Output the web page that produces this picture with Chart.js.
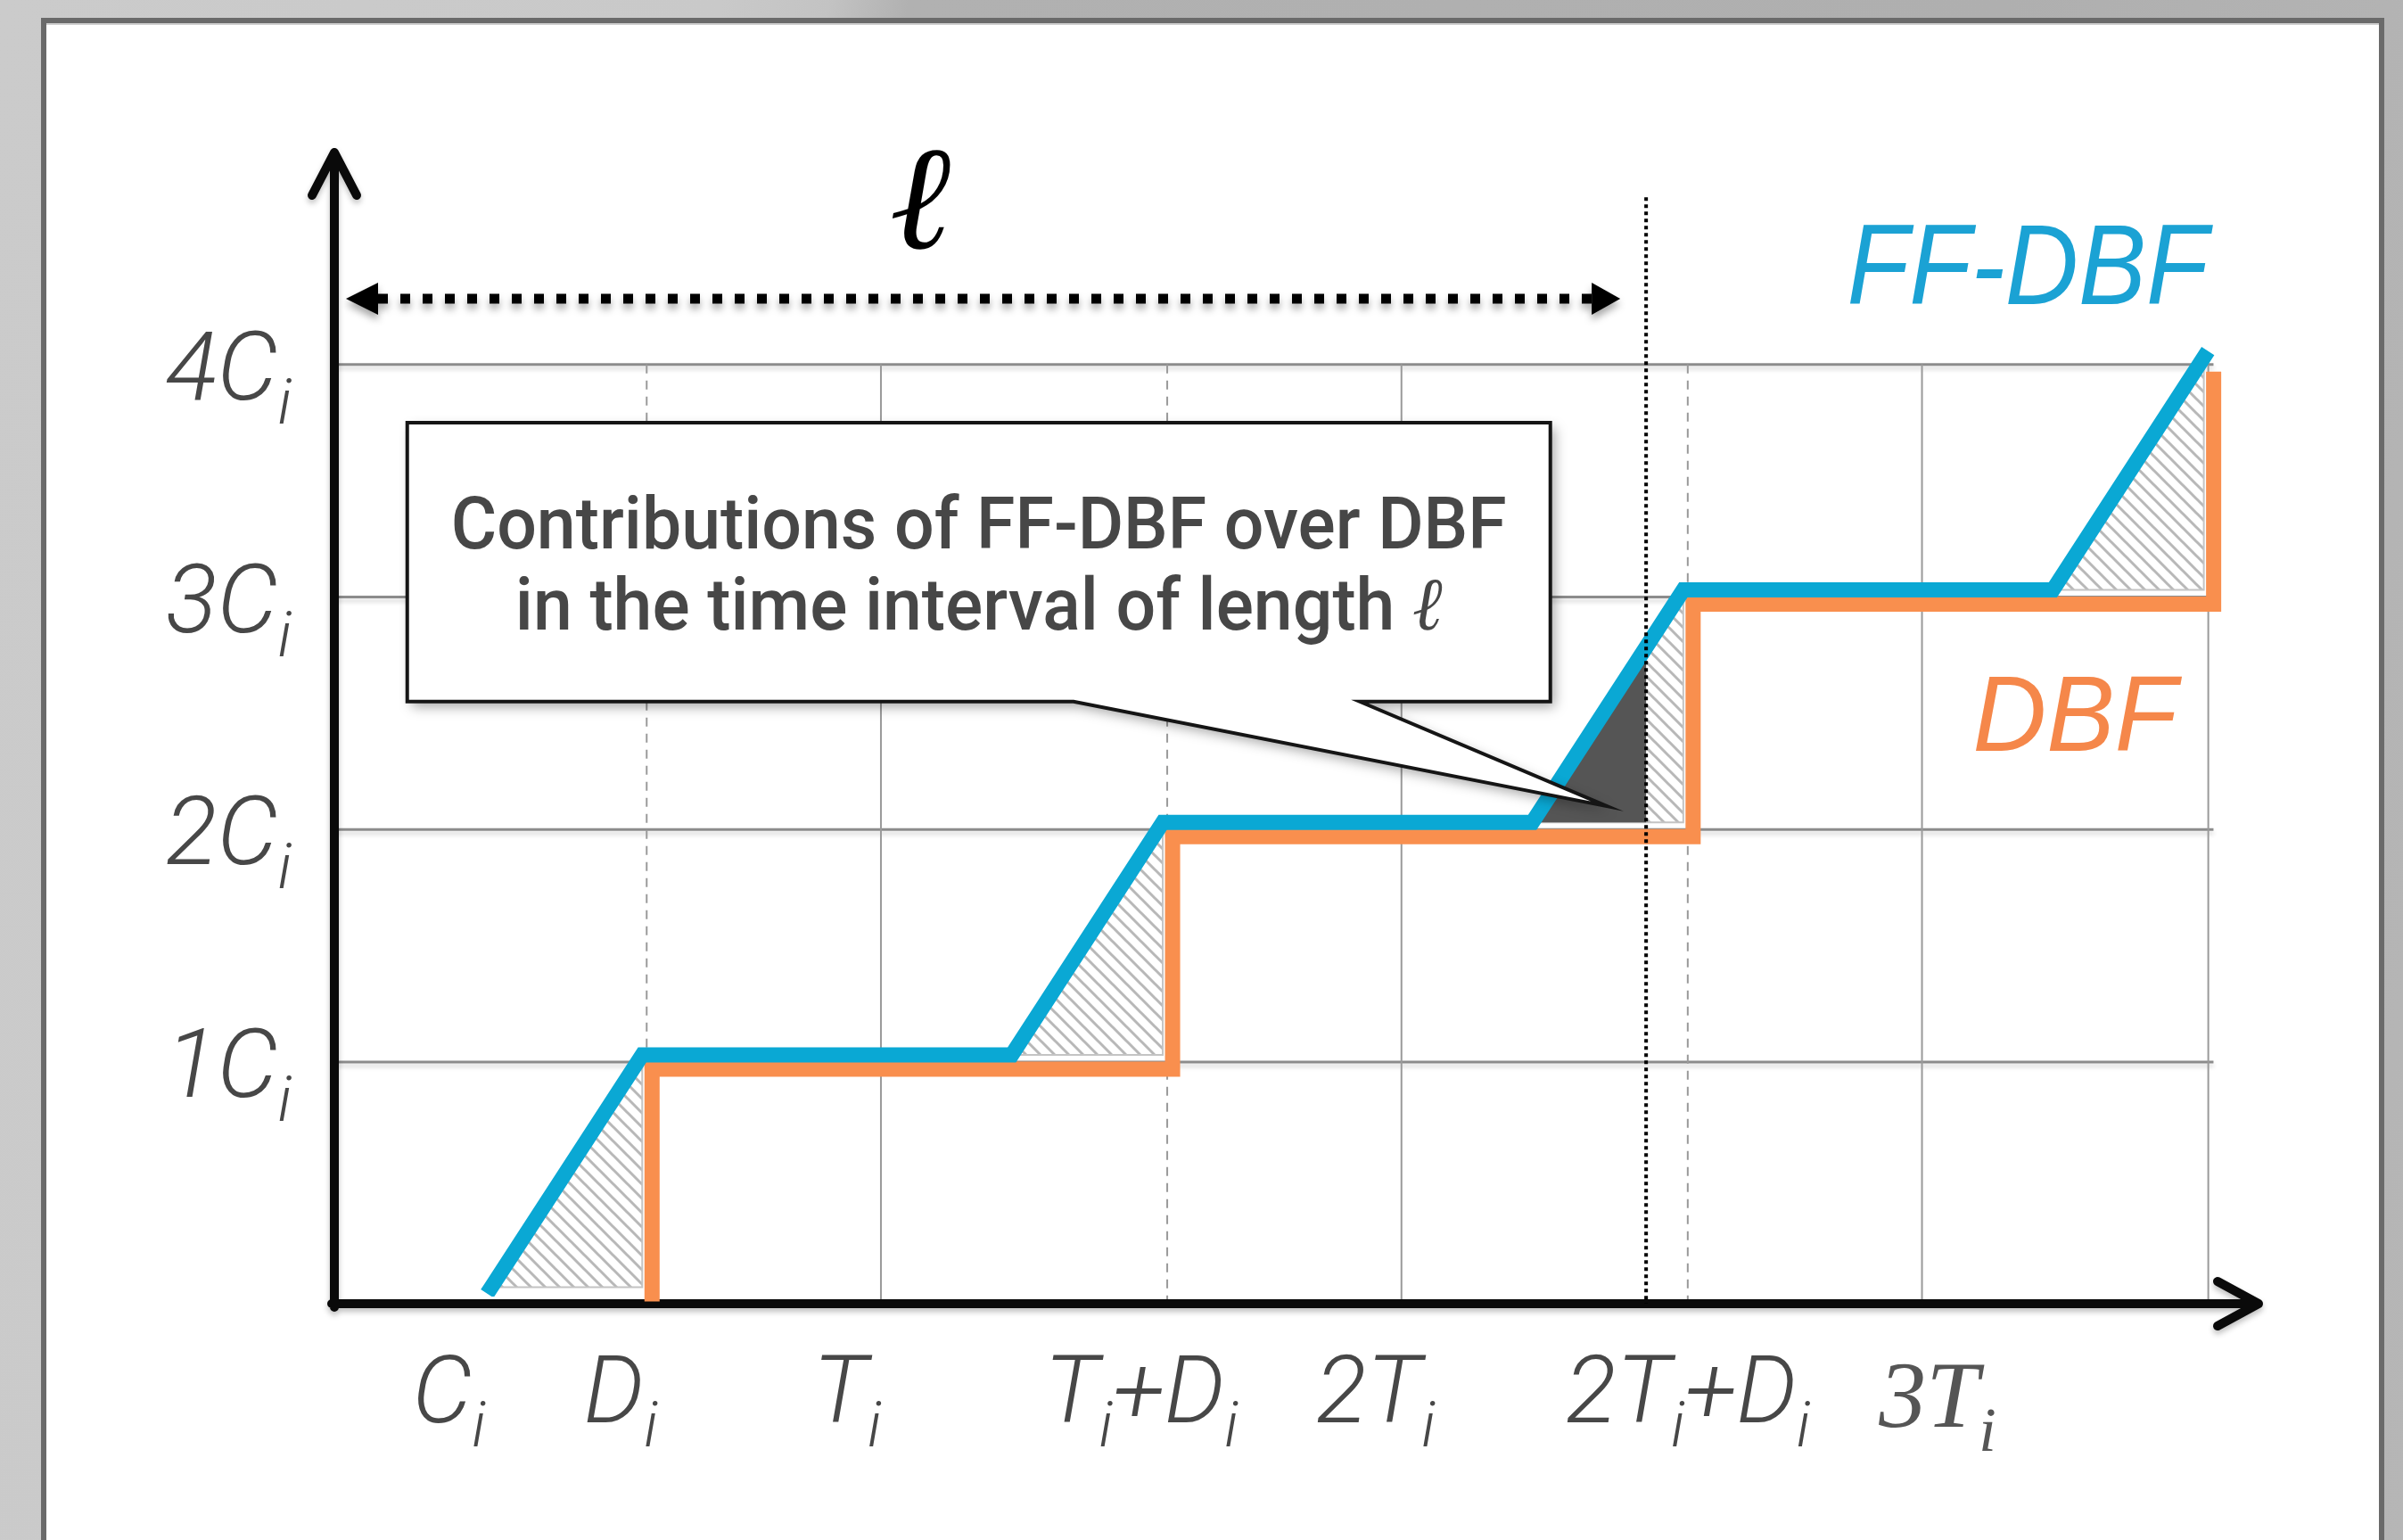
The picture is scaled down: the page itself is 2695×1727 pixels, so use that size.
<!DOCTYPE html>
<html>
<head>
<meta charset="utf-8">
<title>FF-DBF vs DBF</title>
<script src="https://cdn.jsdelivr.net/npm/chart.js@4.4.1/dist/chart.umd.min.js"></script>
<style>
  html, body { margin: 0; padding: 0; }
  body {
    width: 2695px; height: 1727px; overflow: hidden; position: relative;
    background: linear-gradient(100deg, #cbcbcb 0%, #c9c9c9 27%, #c3c3c3 31%, #b1b1b1 34%, #afafaf 75%, #b6b6b6 100%);
  }
  #panel {
    position: absolute; left: 46px; top: 20px; width: 2616px; height: 1760px;
    background: #fff; border: 6px solid #6a6a6a; border-bottom: none;
    box-shadow: inset 0 2px 0 #cfcfcf;
  }
  #chart { position: absolute; left: 0; top: 0; }
</style>
</head>
<body>
<div id="panel"></div>
<canvas id="chart" width="2695" height="1727"></canvas>
<script>
// time axis: T_i = 10 units, D_i = 5.5, C_i (as time) = 2.9; demand axis in multiples of C_i
const ell = 24.7;

const ffdbfX = [2.6, 5.5, 12.6, 15.5, 22.6, 25.5, 32.6, 35.5];
const ffdbfY = [0, 1, 1, 2, 2, 3, 3, 4];

const dbfX = [5.5, 5.5, 15.5, 15.5, 25.5, 25.5, 35.5, 35.5];
const dbfY = [0, 1, 1, 2, 2, 3, 3, 4];

const xTickLabels = ['C_i', 'D_i', 'T_i', 'T_i+D_i', '2T_i', '2T_i+D_i', '3T_i'];
const xTickAt = [1.7, 5.0, 9.35, 15.0, 19.5, 25.5, 30.3];

const yTickLabels = ['1C_i', '2C_i', '3C_i', '4C_i'];
const yTickAt = [1, 2, 3, 4];

const gridSolidX = [10, 20, 30, 35.5];
const gridDashedX = [5.5, 15.5, 25.5];

const blue = '#0aa8d4';
const orange = '#f98f4e';
const labelGray = '#474747';

const shifts = { 0: [-5, -8], 1: [6, 8] };

const serifFam = '"Liberation Serif", "Times New Roman", Tinos, serif';
const sansFam = 'Roboto, "Liberation Sans", sans-serif';

function makeHatch(ctx) {
  const c = document.createElement('canvas');
  c.width = 16; c.height = 16;
  const g = c.getContext('2d');
  g.strokeStyle = '#b8b8b8';
  g.lineWidth = 3;
  g.beginPath();
  g.moveTo(-4, -4); g.lineTo(20, 20);
  g.moveTo(-4, 12); g.lineTo(4, 20);
  g.moveTo(12, -4); g.lineTo(20, 4);
  g.stroke();
  return ctx.createPattern(c, 'repeat');
}

// draws "4C_i" style text, '_x' = subscript
function drawSubText(ctx, text, x, y, size, family, align, weight) {
  const parts = [];
  text.split(/(_.)/).forEach(s => {
    if (!s) return;
    if (s[0] === '_') parts.push({ t: s[1], sub: true });
    else parts.push({ t: s, sub: false });
  });
  const mainFont = `italic ${weight} ${size}px ${family}`;
  const subFont = `italic ${weight} ${Math.round(size * 0.66)}px ${family}`;
  let total = 0;
  parts.forEach(p => {
    ctx.font = p.sub ? subFont : mainFont;
    p.w = ctx.measureText(p.t).width;
    total += p.w;
  });
  let cx = align === 'right' ? x - total : align === 'center' ? x - total / 2 : x;
  ctx.textAlign = 'left';
  ctx.textBaseline = 'alphabetic';
  parts.forEach(p => {
    ctx.font = p.sub ? subFont : mainFont;
    ctx.fillText(p.t, cx, p.sub ? y + size * 0.25 : y);
    cx += p.w;
  });
}

const decor = {
  id: 'decor',
  beforeDatasetsDraw(chart) {
    const ctx = chart.ctx;
    const xs = chart.scales.x, ys = chart.scales.y;
    const area = chart.chartArea;
    const px = v => xs.getPixelForValue(v);
    const py = v => ys.getPixelForValue(v);

    ctx.save();
    // horizontal grid
    ctx.strokeStyle = '#8c8c8c';
    ctx.lineWidth = 3;
    ctx.shadowColor = 'rgba(0,0,0,0.18)';
    ctx.shadowBlur = 5;
    ctx.shadowOffsetY = 4;
    yTickAt.forEach(v => {
      ctx.beginPath();
      ctx.moveTo(area.left, py(v));
      ctx.lineTo(px(35.6), py(v));
      ctx.stroke();
    });
    ctx.shadowColor = 'transparent';
    // vertical grid
    ctx.strokeStyle = '#9a9a9a';
    ctx.lineWidth = 2;
    gridSolidX.forEach(v => {
      ctx.beginPath();
      ctx.moveTo(px(v), py(4));
      ctx.lineTo(px(v), area.bottom);
      ctx.stroke();
    });
    ctx.setLineDash([10, 8]);
    gridDashedX.forEach(v => {
      ctx.beginPath();
      ctx.moveTo(px(v), py(4));
      ctx.lineTo(px(v), area.bottom);
      ctx.stroke();
    });
    ctx.setLineDash([]);

    // contribution triangles between the two curves
    const hatch = makeHatch(ctx);
    const [sx, sy] = shifts[0];
    for (let i = 0; i + 1 < ffdbfX.length; i++) {
      if (ffdbfY[i + 1] <= ffdbfY[i]) continue;
      const ax = px(ffdbfX[i]) + sx, ay = py(ffdbfY[i]) + sy;
      const bx = px(ffdbfX[i + 1]) + sx, by = py(ffdbfY[i + 1]) + sy;
      const tri = () => {
        ctx.beginPath();
        ctx.moveTo(ax, ay); ctx.lineTo(bx, ay); ctx.lineTo(bx, by); ctx.closePath();
      };
      tri();
      ctx.fillStyle = hatch;
      ctx.fill();
      ctx.strokeStyle = '#c4c4c4';
      ctx.lineWidth = 2;
      ctx.stroke();
      const cut = px(ell);
      if (cut > ax && cut < bx) {
        ctx.save();
        ctx.beginPath();
        ctx.rect(ax - 5, by - 5, cut - ax + 5, ay - by + 10);
        ctx.clip();
        tri();
        ctx.fillStyle = '#555555';
        ctx.fill();
        ctx.restore();
      }
    }

    // axes
    ctx.strokeStyle = '#0a0a0a';
    ctx.lineWidth = 10;
    ctx.lineCap = 'round';
    ctx.lineJoin = 'round';
    ctx.shadowColor = 'rgba(0,0,0,0.25)';
    ctx.shadowBlur = 6;
    ctx.shadowOffsetY = 4;
    ctx.beginPath();
    ctx.moveTo(area.left, area.bottom + 4);
    ctx.lineTo(area.left, area.top + 2);
    ctx.moveTo(area.left - 25, area.top + 50);
    ctx.lineTo(area.left, area.top + 2);
    ctx.lineTo(area.left + 25, area.top + 50);
    ctx.moveTo(area.left - 3, area.bottom);
    ctx.lineTo(area.right - 2, area.bottom);
    ctx.moveTo(area.right - 48, area.bottom - 25);
    ctx.lineTo(area.right - 2, area.bottom);
    ctx.lineTo(area.right - 48, area.bottom + 25);
    ctx.stroke();
    ctx.restore();
  },
  beforeDatasetDraw(chart, args) {
    const s = shifts[args.index] || [0, 0];
    chart.ctx.save();
    chart.ctx.translate(s[0], s[1]);
  },
  afterDatasetDraw(chart) {
    chart.ctx.restore();
  },
  afterDatasetsDraw(chart) {
    const ctx = chart.ctx;
    const xs = chart.scales.x, ys = chart.scales.y;
    const area = chart.chartArea;
    const px = v => xs.getPixelForValue(v);
    const py = v => ys.getPixelForValue(v);
    ctx.save();

    // vertical line at l
    ctx.strokeStyle = '#000';
    ctx.lineWidth = 4;
    ctx.setLineDash([4, 4]);
    ctx.beginPath();
    ctx.moveTo(px(ell), py(4.72));
    ctx.lineTo(px(ell), area.bottom);
    ctx.stroke();
    ctx.setLineDash([]);

    // double arrow for l
    const ay = py(4.283);
    const lx = area.left + 13, rx = px(ell) - 29;
    ctx.shadowColor = 'rgba(0,0,0,0.35)';
    ctx.shadowBlur = 8;
    ctx.shadowOffsetY = 6;
    ctx.lineWidth = 11;
    ctx.setLineDash([11, 14]);
    ctx.beginPath();
    ctx.moveTo(lx + 36, ay);
    ctx.lineTo(rx - 30, ay);
    ctx.stroke();
    ctx.setLineDash([]);
    ctx.fillStyle = '#000';
    ctx.beginPath();
    ctx.moveTo(lx, ay); ctx.lineTo(lx + 36, ay - 18); ctx.lineTo(lx + 36, ay + 18); ctx.closePath();
    ctx.fill();
    ctx.beginPath();
    ctx.moveTo(rx, ay); ctx.lineTo(rx - 32, ay - 18); ctx.lineTo(rx - 32, ay + 18); ctx.closePath();
    ctx.fill();
    ctx.shadowColor = 'transparent';

    // l symbol
    ctx.fillStyle = '#000';
    ctx.font = 'italic 165px ' + serifFam;
    ctx.textAlign = 'center';
    ctx.textBaseline = 'alphabetic';
    ctx.fillText('\u2113', px(10.75), py(4.5));

    // callout box
    const bx0 = px(0.9), bx1 = px(22.86), byT = py(3.75), byB = py(2.55);
    ctx.beginPath();
    ctx.moveTo(bx0, byT);
    ctx.lineTo(bx1, byT);
    ctx.lineTo(bx1, byB);
    ctx.lineTo(px(19.2), byB);
    ctx.lineTo(px(23.95), py(2.1));
    ctx.lineTo(px(13.7), byB);
    ctx.lineTo(bx0, byB);
    ctx.closePath();
    ctx.shadowColor = 'rgba(0,0,0,0.35)';
    ctx.shadowBlur = 14;
    ctx.shadowOffsetX = 5;
    ctx.shadowOffsetY = 6;
    ctx.fillStyle = '#fff';
    ctx.fill();
    ctx.shadowColor = 'transparent';
    ctx.strokeStyle = '#151515';
    ctx.lineWidth = 4;
    ctx.lineJoin = 'miter';
    ctx.stroke();

    // callout text, slightly condensed
    const cx = (bx0 + bx1) / 2;
    const line1 = 'Contributions of FF-DBF over DBF';
    const line2 = 'in the time interval of length ';
    const sansFont = '500 82px Roboto, "Liberation Sans", Arial, sans-serif';
    const ellFont = 'italic 84px ' + serifFam;
    ctx.font = sansFont;
    const w1 = ctx.measureText(line1).width;
    const w2a = ctx.measureText(line2).width;
    ctx.font = ellFont;
    const w2b = ctx.measureText('\u2113').width;
    const sxText = Math.min(1.05, 1184 / w1);
    ctx.fillStyle = '#474747';
    ctx.textAlign = 'left';
    ctx.save();
    ctx.translate(cx, byT + 141);
    ctx.scale(sxText, 1);
    ctx.font = sansFont;
    ctx.fillText(line1, -w1 / 2, 0);
    ctx.restore();
    ctx.save();
    ctx.translate(cx, byT + 232);
    ctx.scale(sxText, 1);
    const start2 = -(w2a + w2b) / 2;
    ctx.font = sansFont;
    ctx.fillText(line2, start2, 0);
    ctx.font = ellFont;
    ctx.fillText('\u2113', start2 + w2a, 0);
    ctx.restore();

    // series names
    ctx.textAlign = 'right';
    ctx.fillStyle = '#1ba2d4';
    ctx.font = 'italic 128px "Liberation Sans", Arial, sans-serif';
    ctx.fillText('FF-DBF', px(35.5), py(4.26), 405);
    ctx.fillStyle = '#f5874a';
    ctx.font = 'italic 120px "Liberation Sans", Arial, sans-serif';
    ctx.fillText('DBF', px(34.9), py(2.34), 229);

    // tick labels
    ctx.fillStyle = labelGray;
    yTickLabels.forEach((t, i) => {
      drawSubText(ctx, t, area.left - 48, py(yTickAt[i]) + 39, 108, sansFam, 'right', 300);
    });
    xTickLabels.forEach((t, i) => {
      const serif = t === '3T_i';
      ctx.fillStyle = serif ? '#555' : labelGray;
      drawSubText(ctx, t, px(xTickAt[i]), area.bottom + (serif ? 138 : 133), serif ? 106 : 106,
        serif ? serifFam : sansFam, 'center', serif ? 400 : 300);
    });
    ctx.restore();
  }
};

new Chart(document.getElementById('chart'), {
  type: 'line',
  data: {
    datasets: [
      {
        label: 'FF-DBF',
        data: ffdbfX.map((x, i) => ({ x: x, y: ffdbfY[i] })),
        borderColor: blue,
        borderWidth: 17,
        pointRadius: 0,
        borderJoinStyle: 'miter',
        borderCapStyle: 'square',
        tension: 0,
        fill: false,
        order: 0
      },
      {
        label: 'DBF',
        data: dbfX.map((x, i) => ({ x: x, y: dbfY[i] })),
        borderColor: orange,
        borderWidth: 17,
        pointRadius: 0,
        borderJoinStyle: 'miter',
        tension: 0,
        fill: false,
        order: 1
      }
    ]
  },
  options: {
    responsive: false,
    animation: false,
    devicePixelRatio: 1,
    layout: { padding: { left: 375, right: 160, top: 169, bottom: 265 } },
    plugins: { legend: { display: false }, tooltip: { enabled: false } },
    scales: {
      x: { type: 'linear', min: -0.5, max: 36.5, display: false },
      y: { type: 'linear', min: -0.04, max: 4.92, display: false }
    }
  },
  plugins: [decor]
});
</script>
</body>
</html>
